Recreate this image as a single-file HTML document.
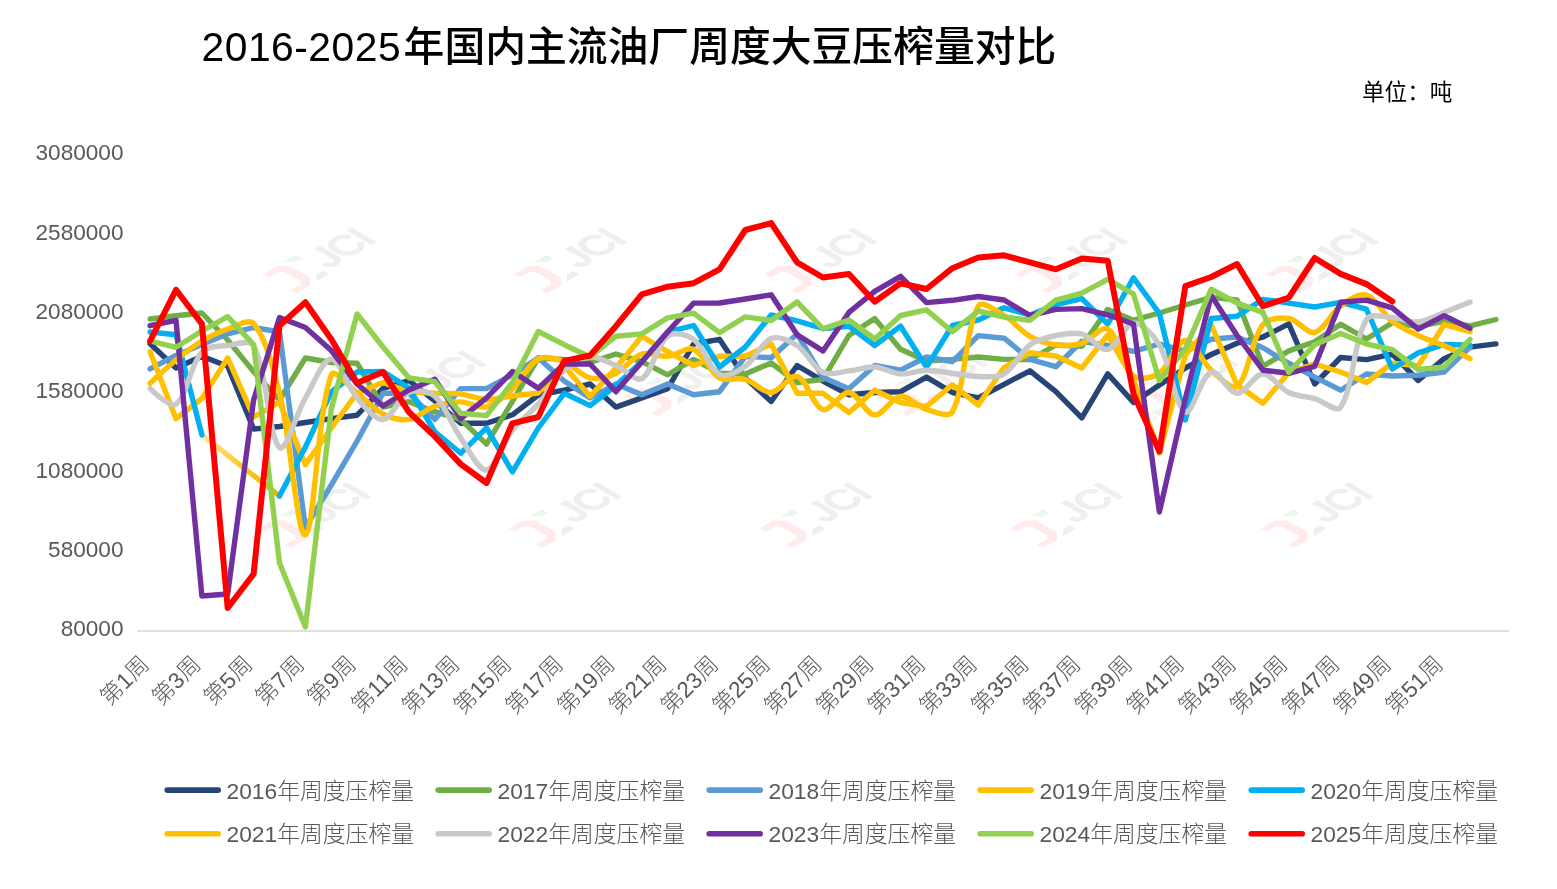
<!DOCTYPE html>
<html lang="zh-CN"><head><meta charset="utf-8"><title>2016-2025年国内主流油厂周度大豆压榨量对比</title>
<style>
html,body{margin:0;padding:0;background:#fff}
body{width:1557px;height:889px;overflow:hidden}
svg{display:block}
svg text{font-family:"Liberation Sans","Noto Sans CJK SC",sans-serif}
.ax text,.lg text{font-size:22.6px;font-weight:300;fill:#595959}
.lg text{font-size:22.8px}
.ln path{fill:none;stroke-linecap:round;stroke-linejoin:round}
</style></head><body>
<svg width="1557" height="889" viewBox="0 0 1557 889">
<defs><linearGradient id="gap" gradientUnits="userSpaceOnUse" x1="201" y1="435" x2="280" y2="497"><stop offset="0" stop-color="#FFE699"/><stop offset="0.5" stop-color="#FFCA24"/><stop offset="1" stop-color="#EBB000"/></linearGradient><clipPath id="jclip"><polygon points="11,-40 80,-40 80,10 -5,10 -5,-15 11,-15"/></clipPath><g id="wmk"><polygon points="263.7,273.8 277.3,265.9 289.5,265.9 310.2,277.8 310.2,285.4 296.1,293.5 290.5,290.3 300.3,284.4 300.3,280.9 284.4,271.7 279.4,271.7 269.2,277.6" fill="#FFEBEB"/><polygon points="284.4,261.8 296.1,254.8 302.1,258.4 295.5,262.1" fill="#EAF6EF"/><polygon points="316.3,274.8 323.1,270.7 328.9,274 316.3,281.4" fill="#EFEFEF"/><text transform="matrix(0.866,-0.5,0.866,0.5,328.8,268.6)" font-size="38.8" font-weight="400" letter-spacing="-0.8" fill="#EFEFEF" stroke="#EFEFEF" stroke-width="2.2" clip-path="url(#jclip)">JCI</text></g></defs>
<rect width="1557" height="889" fill="#fff"/>
<text x="201.5" y="61.2" font-size="40.8" font-weight="500" fill="#000"><tspan letter-spacing="0.5">2016-2025</tspan><tspan x="403.6">年国内主流油厂周度大豆压榨量对比</tspan></text>
<text x="1362" y="99.5" font-size="22.6" font-weight="400" fill="#000">单位：吨</text>
<g class="wm">
<use href="#wmk" x="0.0" y="0.0"/>
<use href="#wmk" x="250.6" y="0.0"/>
<use href="#wmk" x="501.2" y="0.0"/>
<use href="#wmk" x="751.8" y="0.0"/>
<use href="#wmk" x="1002.4" y="0.0"/>
<use href="#wmk" x="110.4" y="122.5"/>
<use href="#wmk" x="361.0" y="122.5"/>
<use href="#wmk" x="611.6" y="122.5"/>
<use href="#wmk" x="862.2" y="122.5"/>
<use href="#wmk" x="-5.0" y="254.5"/>
<use href="#wmk" x="245.6" y="254.5"/>
<use href="#wmk" x="496.2" y="254.5"/>
<use href="#wmk" x="746.8" y="254.5"/>
<use href="#wmk" x="997.4" y="254.5"/>
</g>
<path d="M137.2 631 H1508.9" stroke="#D4D4D4" stroke-width="1.7" fill="none"/>
<g class="ax">
<text x="123.5" y="160.3" text-anchor="end">3080000</text>
<text x="123.5" y="239.7" text-anchor="end">2580000</text>
<text x="123.5" y="319.0" text-anchor="end">2080000</text>
<text x="123.5" y="398.3" text-anchor="end">1580000</text>
<text x="123.5" y="477.7" text-anchor="end">1080000</text>
<text x="123.5" y="557.0" text-anchor="end">580000</text>
<text x="123.5" y="636.3" text-anchor="end">80000</text>
<text transform="translate(150.4 665.6) rotate(-45)" text-anchor="end">第1周</text>
<text transform="translate(202.2 665.6) rotate(-45)" text-anchor="end">第3周</text>
<text transform="translate(253.9 665.6) rotate(-45)" text-anchor="end">第5周</text>
<text transform="translate(305.7 665.6) rotate(-45)" text-anchor="end">第7周</text>
<text transform="translate(357.4 665.6) rotate(-45)" text-anchor="end">第9周</text>
<text transform="translate(409.2 665.6) rotate(-45)" text-anchor="end">第11周</text>
<text transform="translate(461.0 665.6) rotate(-45)" text-anchor="end">第13周</text>
<text transform="translate(512.7 665.6) rotate(-45)" text-anchor="end">第15周</text>
<text transform="translate(564.5 665.6) rotate(-45)" text-anchor="end">第17周</text>
<text transform="translate(616.2 665.6) rotate(-45)" text-anchor="end">第19周</text>
<text transform="translate(668.0 665.6) rotate(-45)" text-anchor="end">第21周</text>
<text transform="translate(719.8 665.6) rotate(-45)" text-anchor="end">第23周</text>
<text transform="translate(771.5 665.6) rotate(-45)" text-anchor="end">第25周</text>
<text transform="translate(823.3 665.6) rotate(-45)" text-anchor="end">第27周</text>
<text transform="translate(875.0 665.6) rotate(-45)" text-anchor="end">第29周</text>
<text transform="translate(926.8 665.6) rotate(-45)" text-anchor="end">第31周</text>
<text transform="translate(978.6 665.6) rotate(-45)" text-anchor="end">第33周</text>
<text transform="translate(1030.3 665.6) rotate(-45)" text-anchor="end">第35周</text>
<text transform="translate(1082.1 665.6) rotate(-45)" text-anchor="end">第37周</text>
<text transform="translate(1133.8 665.6) rotate(-45)" text-anchor="end">第39周</text>
<text transform="translate(1185.6 665.6) rotate(-45)" text-anchor="end">第41周</text>
<text transform="translate(1237.4 665.6) rotate(-45)" text-anchor="end">第43周</text>
<text transform="translate(1289.1 665.6) rotate(-45)" text-anchor="end">第45周</text>
<text transform="translate(1340.9 665.6) rotate(-45)" text-anchor="end">第47周</text>
<text transform="translate(1392.6 665.6) rotate(-45)" text-anchor="end">第49周</text>
<text transform="translate(1444.4 665.6) rotate(-45)" text-anchor="end">第51周</text>
</g>
<g class="ln">
<path d="M150.1 343.7 L176.0 368.0 L201.9 356.3 L227.7 366.2 L253.6 429.0 L279.5 426.5 L305.4 422.5 L331.3 418.7 L357.1 415.2 L383.0 388.3 L408.9 380.5 L434.8 400.9 L460.7 423.3 L486.5 423.3 L512.4 414.8 L538.3 395.0 L564.2 390.2 L590.1 384.0 L615.9 407.1 L641.8 397.9 L667.7 388.7 L693.6 344.0 L719.5 339.3 L745.3 377.9 L771.2 401.5 L797.1 365.5 L823.0 381.0 L848.9 394.8 L874.7 392.5 L900.6 391.7 L926.5 377.1 L952.4 392.5 L978.3 397.8 L1004.1 384.3 L1030.0 370.8 L1055.9 391.7 L1081.8 417.9 L1107.7 373.9 L1133.5 402.4 L1159.4 385.0 L1185.3 368.0 L1211.2 354.5 L1237.1 343.2 L1262.9 337.0 L1288.8 323.9 L1314.7 384.0 L1340.6 357.5 L1366.5 359.6 L1392.3 354.1 L1418.2 380.5 L1444.1 358.6 L1470.0 347.1 L1495.9 343.9" stroke="#264478" stroke-width="5.4"/>
<path d="M150.1 319.0 L176.0 315.8 L201.9 313.0 L227.7 340.0 L253.6 371.6 L279.5 400.0 L305.4 358.0 L331.3 362.5 L357.1 363.2 L383.0 407.0 L408.9 401.7 L434.8 411.7 L460.7 419.4 L486.5 444.1 L512.4 401.4 L538.3 358.0 L564.2 359.4 L590.1 362.4 L615.9 354.0 L641.8 361.7 L667.7 374.8 L693.6 359.4 L719.5 373.2 L745.3 374.0 L771.2 363.0 L797.1 382.5 L823.0 379.4 L848.9 335.5 L874.7 318.5 L900.6 349.3 L926.5 361.0 L952.4 359.4 L978.3 357.0 L1004.1 359.4 L1030.0 359.5 L1055.9 345.0 L1081.8 346.4 L1107.7 309.4 L1133.5 320.2 L1159.4 313.0 L1185.3 305.0 L1211.2 297.4 L1237.1 300.0 L1262.9 366.3 L1288.8 350.9 L1314.7 341.7 L1340.6 324.2 L1366.5 339.0 L1392.3 322.7 L1418.2 326.5 L1444.1 321.4 L1470.0 325.9 L1495.9 319.5" stroke="#70AD47" stroke-width="5.4"/>
<path d="M150.1 368.9 L176.0 355.4 L201.9 344.6 L227.7 333.8 L253.6 327.5 L279.5 332.0 L305.4 527.6 L331.3 485.0 L357.1 441.0 L383.0 393.3 L408.9 393.2 L434.8 419.4 L460.7 388.6 L486.5 388.6 L512.4 374.7 L538.3 358.0 L564.2 381.0 L590.1 398.0 L615.9 384.0 L641.8 394.8 L667.7 384.0 L693.6 394.8 L719.5 391.7 L745.3 356.3 L771.2 357.8 L797.1 334.0 L823.0 377.4 L848.9 388.7 L874.7 365.5 L900.6 370.2 L926.5 357.0 L952.4 361.7 L978.3 335.6 L1004.1 338.2 L1030.0 359.4 L1055.9 366.7 L1081.8 341.3 L1107.7 345.5 L1133.5 351.3 L1159.4 344.0 L1185.3 351.0 L1211.2 339.3 L1237.1 337.0 L1262.9 347.8 L1288.8 363.2 L1314.7 377.1 L1340.6 390.2 L1366.5 374.0 L1392.3 376.0 L1418.2 375.3 L1444.1 372.1 L1470.0 347.1" stroke="#5B9BD5" stroke-width="5.4"/>
<path d="M150.1 351.8 L176.0 418.7 L201.9 398.6 L227.7 358.0 L253.6 417.0 L279.5 402.0 L305.4 464.6 L331.3 428.0 L357.1 393.0 L383.0 382.4 L408.9 391.7 L434.8 393.2 L460.7 393.8 L486.5 400.1 L512.4 396.0 L538.3 393.0 L564.2 366.0 L590.1 396.4 L615.9 368.0 L641.8 336.2 L667.7 351.7 L693.6 365.5 L719.5 356.3 L745.3 356.3 L771.2 344.0 L797.1 393.3 L823.0 393.3 L848.9 412.5 L874.7 390.2 L900.6 402.5 L926.5 406.4 L952.4 384.8 L978.3 405.0 L1004.1 367.5 L1030.0 352.8 L1055.9 356.0 L1081.8 368.0 L1107.7 335.0 L1133.5 380.0 L1159.4 453.0 L1185.3 355.0 L1211.2 324.7 L1237.1 385.0 L1262.9 403.3 L1288.8 372.5 L1314.7 364.0 L1340.6 372.0 L1366.5 382.5 L1392.3 363.1 L1418.2 365.7 L1444.1 324.6 L1470.0 331.7" stroke="#FFC000" stroke-width="5.4"/>
<path d="M201.9 434.9 L279.5 496" stroke="url(#gap)" stroke-width="5.2"/>
<path d="M150.1 332.0 L176.0 334.7 L201.9 434.9" stroke="#00B0F0" stroke-width="5.4"/>
<path d="M279.5 496.0 L305.4 447.0 L331.3 392.0 L357.1 372.0 L383.0 371.5 L408.9 388.0 L434.8 431.7 L460.7 453.3 L486.5 427.9 L512.4 472.0 L538.3 428.0 L564.2 393.3 L590.1 405.6 L615.9 385.6 L641.8 361.5 L667.7 331.8 L693.6 325.5 L719.5 367.0 L745.3 347.0 L771.2 315.0 L797.1 320.8 L823.0 328.5 L848.9 326.2 L874.7 345.5 L900.6 326.2 L926.5 367.1 L952.4 325.5 L978.3 320.0 L1004.1 307.8 L1030.0 315.0 L1055.9 304.7 L1081.8 298.6 L1107.7 324.0 L1133.5 277.8 L1159.4 313.5 L1185.3 420.0 L1211.2 318.5 L1237.1 316.2 L1262.9 299.3 L1288.8 303.1 L1314.7 307.0 L1340.6 302.3 L1366.5 309.2 L1392.3 368.9 L1418.2 352.9 L1444.1 344.5 L1470.0 345.1" stroke="#00B0F0" stroke-width="5.4"/>
<path d="M150.1 383.3 C150.1 383.3 167.0 367.3 176.0 360.0 C184.3 353.2 192.7 346.5 201.9 341.0 C210.0 336.1 218.8 332.0 227.7 329.0 C236.0 326.2 249.1 317.9 253.6 323.5 C266.3 339.2 273.6 369.1 279.5 393.0 C290.9 439.5 297.3 537.6 305.4 534.8 C314.5 531.6 316.8 414.6 331.3 375.0 C334.1 367.3 348.8 386.7 357.1 393.0 C366.0 399.7 373.4 409.1 383.0 414.0 C390.7 417.9 400.7 420.6 408.9 419.4 C417.9 418.1 425.7 409.4 434.8 406.3 C443.0 403.5 452.1 401.8 460.7 401.9 C469.3 402.0 478.7 408.9 486.5 406.9 C495.9 404.5 504.8 396.0 512.4 388.9 C522.0 380.0 527.9 364.5 538.3 359.0 C545.1 355.4 556.2 358.8 564.2 361.7 C573.5 365.1 580.8 375.8 590.1 377.9 C598.0 379.7 608.2 376.8 615.9 373.2 C625.4 368.8 632.3 357.1 641.8 354.0 C649.5 351.5 659.2 357.1 667.7 356.3 C676.5 355.5 686.5 346.3 693.6 349.3 C703.8 353.5 709.1 371.9 719.5 377.9 C726.4 381.9 737.2 377.1 745.3 379.4 C754.5 382.0 762.8 393.0 771.2 392.5 C780.1 392.0 789.8 373.9 797.1 376.3 C807.1 379.6 813.0 406.4 823.0 409.5 C830.3 411.8 840.7 391.6 848.9 392.5 C857.9 393.4 865.8 414.2 874.7 414.9 C883.1 415.5 891.6 397.3 900.6 396.4 C908.8 395.5 917.4 406.8 926.5 409.5 C934.7 411.9 949.1 418.4 952.4 411.8 C966.3 384.0 964.5 331.8 978.3 306.2 C981.7 299.7 996.3 311.0 1004.1 315.5 C1013.6 321.0 1020.5 330.9 1030.0 336.3 C1037.8 340.7 1047.1 343.6 1055.9 344.8 C1064.3 345.9 1073.7 345.8 1081.8 343.3 C1091.0 340.5 1101.5 325.1 1107.7 329.0 C1118.8 336.0 1121.9 366.1 1133.5 376.0 C1139.2 380.8 1152.8 377.6 1159.4 373.0 C1170.0 365.7 1176.4 341.0 1185.3 340.5 C1193.7 340.0 1201.5 361.4 1211.2 370.0 C1218.7 376.7 1231.6 391.1 1237.1 386.4 C1248.9 376.0 1250.6 340.9 1262.9 324.7 C1267.8 318.3 1280.6 317.3 1288.8 318.5 C1297.9 319.8 1307.1 334.2 1314.7 332.4 C1324.3 330.1 1330.8 313.1 1340.6 306.0 C1348.0 300.7 1359.0 293.0 1366.5 295.2 C1376.3 298.1 1382.8 313.9 1392.3 321.4 C1400.0 327.4 1409.3 331.3 1418.2 335.5 C1426.6 339.5 1435.6 342.0 1444.1 345.8 C1452.9 349.7 1470.0 358.6 1470.0 358.6" stroke="#FFC000" stroke-width="5.4"/>
<path d="M150.1 388.7 C150.1 388.7 170.1 408.4 176.0 404.2 C187.4 396.1 190.0 365.2 201.9 351.8 C207.3 345.7 219.0 346.6 227.7 345.5 C236.2 344.5 250.2 338.8 253.6 345.5 C267.5 372.8 268.2 436.1 279.5 447.5 C285.5 453.6 296.0 414.1 305.4 398.0 C313.2 384.6 322.6 359.0 331.3 359.0 C339.9 359.0 347.1 386.3 357.1 398.0 C364.3 406.4 374.9 420.3 383.0 419.4 C392.1 418.4 398.7 396.9 408.9 392.4 C416.0 389.2 428.8 391.0 434.8 396.3 C446.0 406.2 451.3 424.6 460.7 437.9 C468.5 449.1 478.5 471.2 486.5 470.0 C495.8 468.6 502.7 442.4 512.4 430.0 C519.9 420.4 530.3 413.2 538.3 404.0 C547.6 393.2 553.9 379.3 564.2 370.0 C571.2 363.7 581.2 357.8 590.1 357.0 C598.4 356.3 607.6 362.0 615.9 365.5 C624.8 369.2 635.5 382.2 641.8 378.6 C652.7 372.4 656.4 344.6 667.7 336.0 C673.6 331.5 687.1 334.5 693.6 339.3 C704.4 347.3 708.8 368.9 719.5 374.5 C726.1 377.9 738.1 371.3 745.3 366.3 C755.4 359.3 761.1 342.6 771.2 338.5 C778.4 335.6 789.9 340.8 797.1 345.5 C807.1 352.1 812.8 367.5 823.0 372.5 C830.0 376.0 840.3 371.8 848.9 370.9 C857.5 370.0 866.2 366.5 874.7 367.0 C883.5 367.5 891.9 373.5 900.6 374.0 C909.1 374.5 917.9 370.3 926.5 370.2 C935.1 370.1 943.8 372.2 952.4 373.2 C961.0 374.3 969.6 376.4 978.3 376.5 C986.9 376.6 997.2 378.2 1004.1 374.0 C1014.5 367.7 1019.9 352.3 1030.0 344.8 C1037.1 339.5 1047.0 337.5 1055.9 335.6 C1064.3 333.9 1073.8 331.9 1081.8 334.0 C1091.1 336.5 1099.9 351.0 1107.7 349.4 C1117.2 347.4 1124.5 323.8 1133.5 323.0 C1141.8 322.3 1153.9 335.5 1159.4 345.0 C1171.1 365.1 1174.9 406.6 1185.3 412.0 C1192.2 415.6 1201.1 375.7 1211.2 372.0 C1218.3 369.4 1228.3 393.0 1237.1 393.3 C1245.5 393.6 1254.2 374.1 1262.9 374.0 C1271.5 373.9 1279.4 388.0 1288.8 392.5 C1296.7 396.3 1306.2 396.3 1314.7 398.7 C1323.4 401.2 1336.6 413.3 1340.6 407.2 C1353.9 386.8 1353.0 342.6 1366.5 319.3 C1370.3 312.7 1383.8 317.1 1392.3 317.5 C1401.0 318.0 1409.8 322.8 1418.2 322.0 C1427.1 321.1 1435.5 315.7 1444.1 312.4 C1452.8 309.1 1470.0 302.1 1470.0 302.1" stroke="#C9C9C9" stroke-width="5.4"/>
<path d="M150.1 325.7 L176.0 320.3 L201.9 596.0 L227.7 594.0 L253.6 400.0 L279.5 317.6 L305.4 327.5 L331.3 350.5 L357.1 384.0 L383.0 406.0 L408.9 390.0 L434.8 379.3 L460.7 418.6 L486.5 397.8 L512.4 371.6 L538.3 388.2 L564.2 364.0 L590.1 364.0 L615.9 391.7 L641.8 362.0 L667.7 332.0 L693.6 303.1 L719.5 303.0 L745.3 299.0 L771.2 294.8 L797.1 334.7 L823.0 350.9 L848.9 312.4 L874.7 291.3 L900.6 276.3 L926.5 302.6 L952.4 300.3 L978.3 296.5 L1004.1 300.0 L1030.0 315.5 L1055.9 309.4 L1081.8 308.6 L1107.7 314.8 L1133.5 324.0 L1159.4 512.0 L1185.3 399.0 L1211.2 295.4 L1237.1 335.5 L1262.9 370.2 L1288.8 373.3 L1314.7 366.3 L1340.6 302.3 L1366.5 300.1 L1392.3 307.9 L1418.2 329.1 L1444.1 315.6 L1470.0 328.4" stroke="#7030A0" stroke-width="5.4"/>
<path d="M150.1 341.0 L176.0 347.3 L201.9 331.0 L227.7 316.7 L253.6 344.6 L279.5 563.0 L305.4 627.0 L331.3 409.0 L357.1 314.0 L383.0 347.0 L408.9 377.8 L434.8 381.6 L460.7 413.2 L486.5 415.6 L512.4 382.4 L538.3 331.5 L564.2 344.7 L590.1 357.0 L615.9 336.2 L641.8 333.9 L667.7 317.8 L693.6 313.2 L719.5 332.7 L745.3 316.9 L771.2 320.5 L797.1 302.0 L823.0 328.8 L848.9 320.0 L874.7 339.0 L900.6 315.5 L926.5 309.9 L952.4 331.7 L978.3 311.0 L1004.1 317.0 L1030.0 320.2 L1055.9 300.1 L1081.8 293.2 L1107.7 279.3 L1133.5 294.0 L1159.4 380.5 L1185.3 349.0 L1211.2 289.2 L1237.1 303.1 L1262.9 312.4 L1288.8 372.5 L1314.7 344.7 L1340.6 333.5 L1366.5 344.0 L1392.3 349.6 L1418.2 369.5 L1444.1 367.0 L1470.0 339.4" stroke="#92D050" stroke-width="5.4"/>
<path d="M150.1 341.0 L176.0 289.8 L201.9 323.9 L227.7 608.0 L253.6 574.0 L279.5 325.7 L305.4 302.3 L331.3 339.2 L357.1 383.0 L383.0 372.0 L408.9 412.0 L434.8 436.4 L460.7 464.1 L486.5 483.0 L512.4 423.3 L538.3 417.0 L564.2 360.9 L590.1 355.5 L615.9 326.2 L641.8 294.4 L667.7 286.7 L693.6 283.2 L719.5 269.4 L745.3 230.0 L771.2 223.1 L797.1 262.4 L823.0 277.5 L848.9 274.0 L874.7 301.7 L900.6 283.2 L926.5 289.0 L952.4 268.2 L978.3 257.5 L1004.1 255.3 L1030.0 262.4 L1055.9 269.3 L1081.8 258.5 L1107.7 260.8 L1133.5 394.0 L1159.4 451.5 L1185.3 286.2 L1211.2 277.0 L1237.1 264.0 L1262.9 306.2 L1288.8 297.7 L1314.7 258.0 L1340.6 273.9 L1366.5 284.1 L1392.3 301.5" stroke="#FF0000" stroke-width="6.0"/>
</g>
<g class="lg">
<path d="M167.2 790.1 h51" stroke="#264478" stroke-width="5.6" stroke-linecap="round"/>
<text x="226.5" y="798.7">2016年周度压榨量</text>
<path d="M438.2 790.1 h51" stroke="#70AD47" stroke-width="5.6" stroke-linecap="round"/>
<text x="497.5" y="798.7">2017年周度压榨量</text>
<path d="M709.2 790.1 h51" stroke="#5B9BD5" stroke-width="5.6" stroke-linecap="round"/>
<text x="768.5" y="798.7">2018年周度压榨量</text>
<path d="M980.2 790.1 h51" stroke="#FFC000" stroke-width="5.6" stroke-linecap="round"/>
<text x="1039.5" y="798.7">2019年周度压榨量</text>
<path d="M1251.2 790.1 h51" stroke="#00B0F0" stroke-width="5.6" stroke-linecap="round"/>
<text x="1310.5" y="798.7">2020年周度压榨量</text>
<path d="M167.2 833.8 h51" stroke="#FFC000" stroke-width="5.6" stroke-linecap="round"/>
<text x="226.5" y="842.4">2021年周度压榨量</text>
<path d="M438.2 833.8 h51" stroke="#C9C9C9" stroke-width="5.6" stroke-linecap="round"/>
<text x="497.5" y="842.4">2022年周度压榨量</text>
<path d="M709.2 833.8 h51" stroke="#7030A0" stroke-width="5.6" stroke-linecap="round"/>
<text x="768.5" y="842.4">2023年周度压榨量</text>
<path d="M980.2 833.8 h51" stroke="#92D050" stroke-width="5.6" stroke-linecap="round"/>
<text x="1039.5" y="842.4">2024年周度压榨量</text>
<path d="M1251.2 833.8 h51" stroke="#FF0000" stroke-width="5.6" stroke-linecap="round"/>
<text x="1310.5" y="842.4">2025年周度压榨量</text>
</g>
</svg>
</body></html>
